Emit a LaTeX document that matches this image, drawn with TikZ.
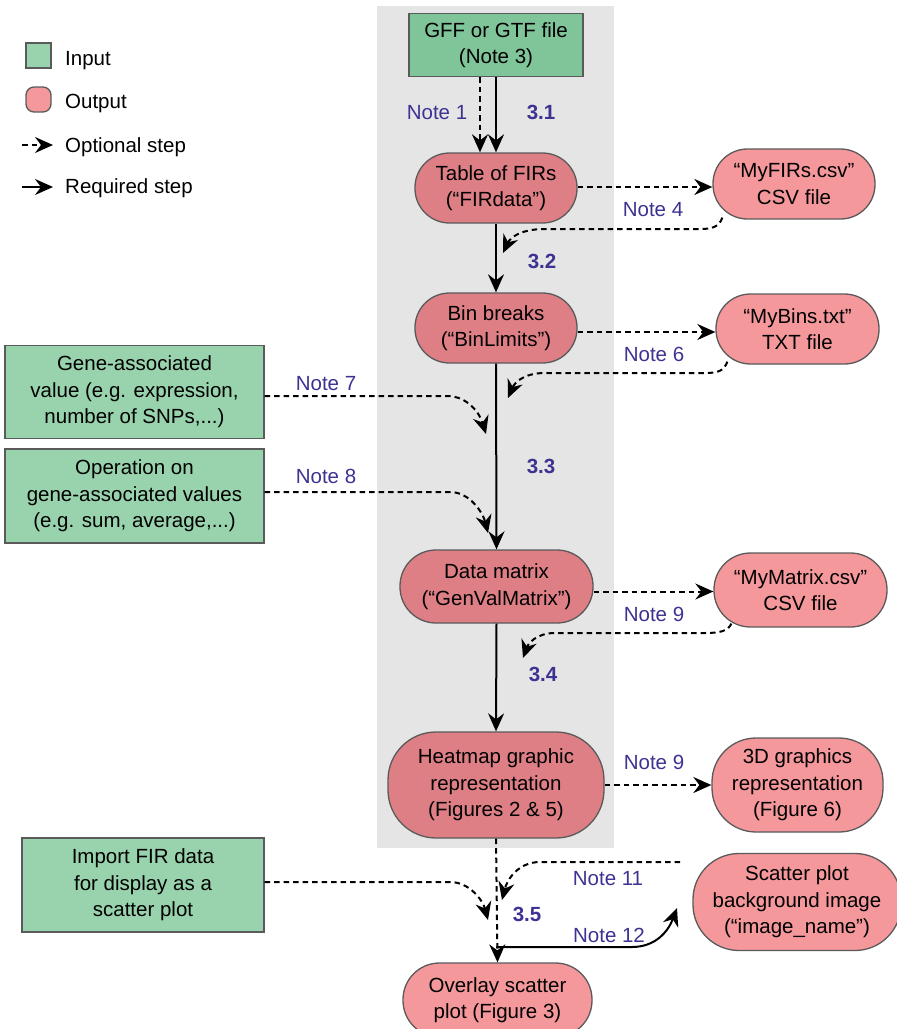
\documentclass[tikz,border=0pt]{standalone}
\usepackage{fontspec}
\setmainfont{Liberation Sans}
\usetikzlibrary{arrows.meta,calc}
\definecolor{ingreen}{HTML}{99D3AE}
\definecolor{ingreendk}{HTML}{80C49A}
\definecolor{outred}{HTML}{F4989C}
\definecolor{outreddk}{HTML}{DE7F86}
\definecolor{bggray}{HTML}{E5E5E5}
\definecolor{notecol}{HTML}{3C3291}
\definecolor{edgecol}{HTML}{5A5A5A}
\pgfdeclarelayer{back}
\pgfdeclarelayer{bg}
\pgfsetlayers{bg,back,main}
\begin{document}
\begin{tikzpicture}[x=1pt,y=-1pt,
 font=\fontsize{20.5}{26.5}\selectfont,
 inbox/.style={draw=edgecol, line width=1.3pt, fill=ingreen, align=center, inner sep=0pt},
 pill/.style={draw=edgecol, line width=1.3pt, fill=outred, align=center, inner sep=0pt},
 arrowtip/.style={-{Stealth[length=18pt,width=16pt,inset=6pt]}},
 req/.style={line width=2pt, arrowtip},
 opt/.style={line width=2pt, dash pattern=on 5.5pt off 4pt, arrowtip},
 note/.style={text=notecol, anchor=base, inner sep=0pt},
 stepnum/.style={text=notecol, anchor=base, inner sep=0pt, font=\fontsize{20.5}{24}\selectfont\bfseries},
 lgtext/.style={anchor=base west, inner sep=0pt},
]
\useasboundingbox (0,0) rectangle (897,1029);
\begin{pgfonlayer}{bg}
\fill[bggray] (377,6) rectangle (614,848);
\end{pgfonlayer}

% legend
\node[inbox, minimum width=25pt, minimum height=25pt] (lgin) at (38.5,55.5) {};
\node[pill, minimum width=25pt, minimum height=25pt, rounded corners=8pt] (lgout) at (38.5,99.5) {};
\node[lgtext] (lgintxt) at (65,65) {Input};
\node[lgtext] (lgouttxt) at (65,108) {Output};
\node[lgtext] (lgopttxt) at (65,152) {Optional step};
\node[lgtext] (lgreqtxt) at (65,193) {Required step};
\coordinate (lo1) at (22,145);
\coordinate (lo2) at (53,145);
\coordinate (lr1) at (22,187);
\coordinate (lr2) at (53,187);
\draw[opt] (lo1) -- (lo2);
\draw[req] (lr1) -- (lr2);

% main column
\node[inbox, fill=ingreendk, minimum width=174pt, minimum height=63pt] (gff) at (496,45) {GFF or GTF file\\(Note 3)};
\node[pill, fill=outreddk, minimum width=162pt, minimum height=70pt, rounded corners=34.5pt] (fir) at (496,188) {Table of FIRs\\(“FIRdata”)};
\node[pill, fill=outreddk, minimum width=162pt, minimum height=70pt, rounded corners=34.5pt] (bin) at (496,328) {Bin breaks\\(“BinLimits”)};
\node[pill, fill=outreddk, minimum width=193pt, minimum height=73pt, rounded corners=36pt] (data) at (496.5,586.5) {Data matrix\\(“GenValMatrix”)};
\node[pill, fill=outreddk, minimum width=216pt, minimum height=106pt, rounded corners=48pt] (heat) at (496,785) {Heatmap graphic\\representation\\(Figures 2 \& 5)};
\node[pill, minimum width=189pt, minimum height=74pt, rounded corners=36.5pt] (overlay) at (497.5,1000) {Overlay scatter\\plot (Figure 3)};

% right column
\node[pill, minimum width=162pt, minimum height=70pt, rounded corners=34.5pt] (csv1) at (794,184) {“MyFIRs.csv”\\CSV file};
\node[pill, minimum width=163pt, minimum height=70pt, rounded corners=34.5pt] (bins) at (797.5,329) {“MyBins.txt”\\TXT file};
\node[pill, minimum width=173pt, minimum height=74pt, rounded corners=36.5pt] (matrix) at (800.5,590) {“MyMatrix.csv”\\CSV file};
\node[pill, minimum width=171pt, minimum height=94pt, rounded corners=44pt] (g3d) at (797.5,785) {3D graphics\\representation\\(Figure 6)};
\node[pill, minimum width=208pt, minimum height=97pt, rounded corners=46pt] (scbg) at (797,902) {Scatter plot\\background image\\(“image\_name”)};

% left inputs
\node[inbox, minimum width=259pt, minimum height=93pt] (gene) at (134.5,392) {Gene-associated\\value (e.g. expression,\\number of SNPs,...)};
\node[inbox, minimum width=259pt, minimum height=94pt] (oper) at (134.5,496) {Operation on\\gene-associated values\\(e.g. sum, average,...)};
\node[inbox, minimum width=242pt, minimum height=94pt] (imp) at (143,885) {Import FIR data\\for display as a\\scatter plot};

% free ends
\coordinate (r4) at (503,253);
\coordinate (r6) at (508,398);
\coordinate (r9) at (523,658);
\coordinate (t7) at (486,434);
\coordinate (t8) at (488,533);
\coordinate (ti) at (488,920);
\coordinate (n11s) at (680,862);
\coordinate (t11) at (502,900);
\coordinate (n12s) at (496,947);
\coordinate (t12) at (677,908);

% connectors
\draw[opt] ([xshift=-16pt]gff.south) -- ([xshift=-16pt]fir.north);
\draw[req] (gff.south) -- (fir.north);
\draw[req] (fir.south) -- (bin.north);
\draw[req] (bin.south) -- (data.north);
\draw[req] (data.south) -- (heat.north);
\draw[opt] (heat.south) -- (overlay.north);

\draw[opt] ([yshift=1pt]fir.east) -- ([yshift=1pt]fir.east -| csv1.west);
\draw[opt] ([yshift=-4pt]bin.east) -- ([yshift=-4pt]bin.east -| bins.west);
\draw[opt] ([yshift=-5pt]data.east) -- ([yshift=-5pt]data.east -| matrix.west);
\draw[opt] (heat.east) -- (g3d.west);

\begin{pgfonlayer}{back}
\draw[opt] ($(csv1.south west)+(10,-2)$) .. controls (719,227) and (712,229) .. (700,229) -- (545,229) .. controls (520,229) and (510,238) .. (r4);
\draw[opt] ($(bins.south west)+(12,-3)$) .. controls (724,371) and (718,373) .. (705,373) -- (545,373) .. controls (522,373) and (514,384) .. (r6);
\draw[opt] ($(matrix.south west)+(18,-4)$) .. controls (728,631) and (720,633) .. (705,633) -- (555,633) .. controls (536,633) and (528,644) .. (r9);
\end{pgfonlayer}

\draw[opt] (gene.east |- 0,396) -- (447,396) .. controls (468,396) and (480,414) .. (t7);
\draw[opt] (oper.east |- 0,492) -- (450,492) .. controls (470,492) and (483,513) .. (t8);
\draw[opt] (imp.east |- 0,882) -- (450,882) .. controls (470,882) and (483,901) .. (ti);
\draw[opt] (n11s) -- (540,862) .. controls (518,862) and (507,880) .. (t11);
\draw[req] (n12s) -- (632,947) .. controls (655,947) and (668,932) .. (t12);

% labels
\node[note] (l1) at (437,119) {Note 1};
\node[stepnum] (s1) at (541,119) {3.1};
\node[note] (l4) at (653,216) {Note 4};
\node[stepnum] (s2) at (542,268) {3.2};
\node[note] (l6) at (654,361) {Note 6};
\node[note] (l7) at (326,390) {Note 7};
\node[note] (l8) at (326,483) {Note 8};
\node[stepnum] (s3) at (541,473) {3.3};
\node[note] (l9a) at (654,621) {Note 9};
\node[stepnum] (s4) at (543,681) {3.4};
\node[note] (l9b) at (654,769) {Note 9};
\node[note] (l11) at (608,885) {Note 11};
\node[stepnum] (s5) at (527,921) {3.5};
\node[note] (l12) at (609,942) {Note 12};
\end{tikzpicture}
\end{document}
